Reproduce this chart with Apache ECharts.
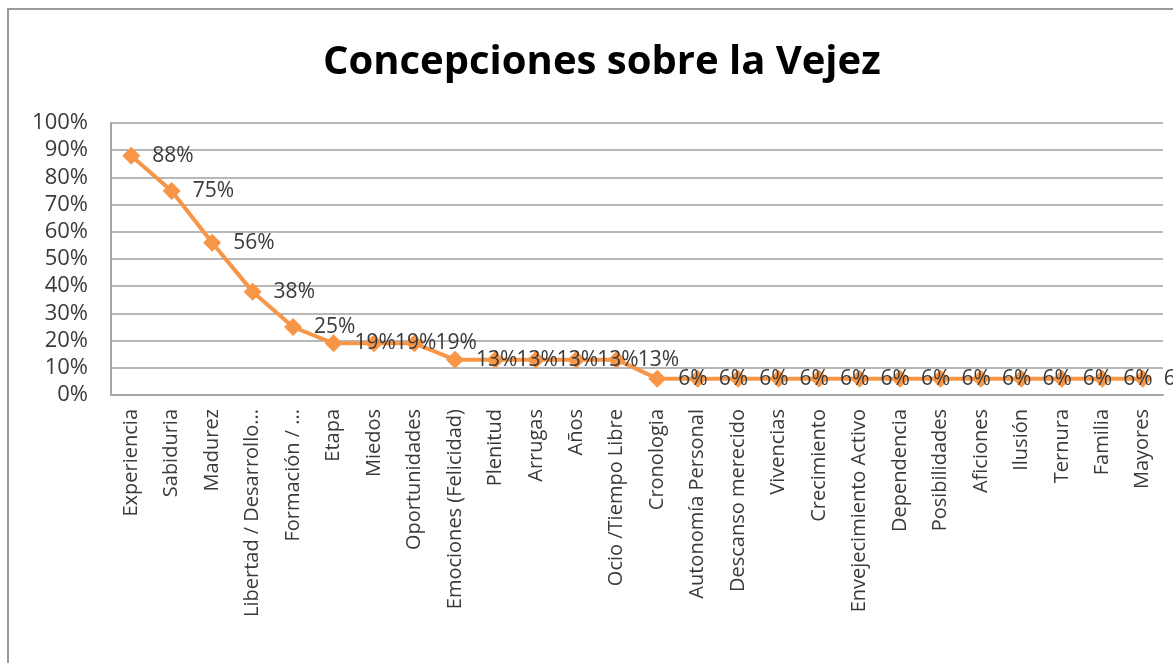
<!DOCTYPE html>
<html>
<head>
<meta charset="utf-8">
<script src="https://cdn.jsdelivr.net/npm/echarts@6/dist/echarts.min.js"></script>
<style>
    html, body { margin: 0; padding: 0; background: #fff; }
    #chart { width: 1173px; height: 663px; }
</style>
</head>
<body>
<div id="chart"></div>
<script>
// categorías y porcentajes
const categories = [
    "Experiencia", "Sabiduria", "Madurez", "Libertad / Desarrollo...", "Formación / ...",
    "Etapa", "Miedos", "Oportunidades", "Emociones (Felicidad)", "Plenitud",
    "Arrugas", "Años", "Ocio /Tiempo Libre", "Cronologia", "Autonomía Personal",
    "Descanso merecido", "Vivencias", "Crecimiento", "Envejecimiento Activo", "Dependencia",
    "Posibilidades", "Aficiones", "Ilusión", "Ternura", "Familia", "Mayores"
];
const percentages = [
    88, 75, 56, 38, 25,
    19, 19, 19, 13, 13,
    13, 13, 13, 6, 6,
    6, 6, 6, 6, 6,
    6, 6, 6, 6, 6, 6
];
const yTicks = [0, 10, 20, 30, 40, 50, 60, 70, 80, 90, 100];

const chart = echarts.init(document.getElementById("chart"));

const option = {
    backgroundColor: "#fff",
    animation: false,
    title: {
        text: "Concepciones sobre la Vejez",
        left: 318,
        top: 38,
        textStyle: {
            fontFamily: "Open Sans",
            fontWeight: "bold",
            fontSize: 40,
            color: "#000"
        }
    },
    graphic: [
        {
            // marco exterior del gráfico
            type: "rect",
            shape: { x: 8, y: 9, width: 1200, height: 700 },
            style: { fill: "none", stroke: "#9a9a9a", lineWidth: 2 },
            silent: true
        }
    ],
    grid: {
        left: 111,
        right: 10,
        top: 123,
        bottom: 268
    },
    xAxis: {
        type: "category",
        data: categories,
        boundaryGap: true,
        axisLine: { lineStyle: { color: "#a6a6a6", width: 2 } },
        axisTick: { show: false },
        axisLabel: {
            rotate: 90,
            interval: 0,
            margin: 14,
            fontFamily: "Open Sans",
            fontSize: 20,
            color: "#3a3a3a"
        }
    },
    yAxis: {
        type: "value",
        min: yTicks[0],
        max: yTicks[yTicks.length - 1],
        interval: 10,
        axisLine: { show: true, lineStyle: { color: "#a6a6a6", width: 2 } },
        axisTick: { show: false },
        splitLine: { lineStyle: { color: "#b8b8b8", width: 2 } },
        axisLabel: {
            margin: 23,
            fontFamily: "Open Sans",
            fontSize: 22,
            color: "#3a3a3a",
            formatter: v => v + "%"
        }
    },
    series: [
        {
            type: "line",
            data: percentages,
            symbol: "diamond",
            symbolSize: 18,
            lineStyle: { color: "#F79646", width: 4 },
            itemStyle: { color: "#F79646" },
            label: {
                show: true,
                position: "right",
                distance: 12,
                fontFamily: "Open Sans",
                fontSize: 21,
                color: "#3a3a3a",
                formatter: p => p.value + "%"
            }
        }
    ]
};

chart.setOption(option);
</script>
</body>
</html>
